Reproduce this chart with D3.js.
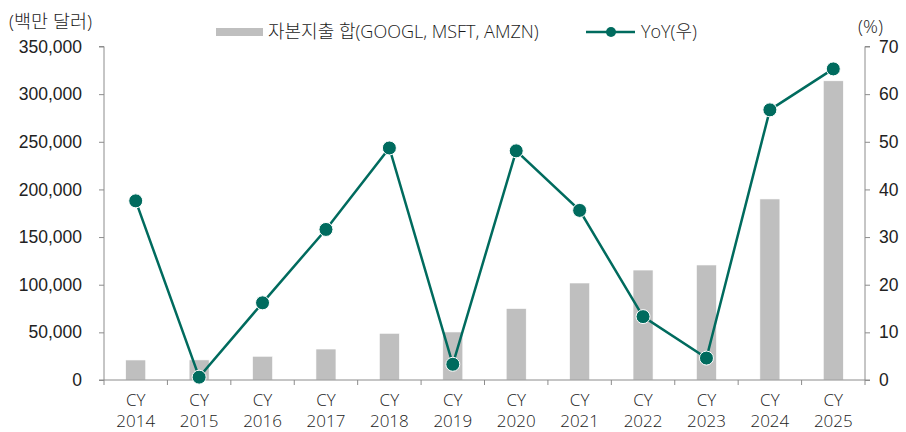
<!DOCTYPE html>
<html>
<head>
<meta charset="utf-8">
<script src="https://cdn.jsdelivr.net/npm/d3@7/dist/d3.min.js"></script>
<style>
  html, body { margin: 0; padding: 0; background: #fff; }
  svg { display: block; font-family: "Open Sans", "Noto Sans CJK KR", sans-serif; font-weight: 300; }
  .axis text { fill: #222; font-size: 17.5px; }
  .axis path, .axis line { stroke: #8c8c8c; }
</style>
</head>
<body>
<svg id="chart" width="906" height="432"></svg>
<script>
// Combined capex of Alphabet, Microsoft and Amazon (USD millions) and YoY growth (%)
const categories = ["CY 2014", "CY 2015", "CY 2016", "CY 2017", "CY 2018", "CY 2019",
                    "CY 2020", "CY 2021", "CY 2022", "CY 2023", "CY 2024", "CY 2025"];
const capex = [21000, 21100, 24900, 32500, 49000, 50400, 75000, 101800, 115400, 120700, 190000, 314000];
const yoy = [37.6, 0.6, 16.2, 31.6, 48.7, 3.3, 48.1, 35.6, 13.3, 4.6, 56.7, 65.3];
const leftTicks = [0, 50000, 100000, 150000, 200000, 250000, 300000, 350000];
const rightTicks = [0, 10, 20, 30, 40, 50, 60, 70];
const barLabel = "자본지출 합(GOOGL, MSFT, AMZN)";
const lineLabel = "YoY(우)";
const leftUnit = "(백만 달러)";
const rightUnit = "(%)";

const svg = d3.select("#chart");
const plotL = 104, plotR = 865, plotT = 46.5, plotB = 380;
const barColor = "#bfbfbf", lineColor = "#006b5e", textColor = "#1a1a1a";

const x = d3.scaleBand().domain(categories).range([plotL, plotR]).padding(0);
const yL = d3.scaleLinear().domain([0, 350000]).range([plotB, plotT]);
const yR = d3.scaleLinear().domain([0, 70]).range([plotB, plotT]);

// bars
const barW = 20;
svg.append("g").selectAll("rect").data(capex).join("rect")
  .attr("x", (d, i) => x(categories[i]) + x.bandwidth() / 2 - barW / 2)
  .attr("y", d => yL(d))
  .attr("width", barW)
  .attr("height", d => yL(0) - yL(d))
  .attr("fill", barColor)
  .attr("stroke", "#fff").attr("stroke-width", 0.6);

// left axis
const gL = svg.append("g").attr("class", "axis").attr("transform", `translate(${plotL},0)`)
  .call(d3.axisLeft(yL).tickValues(leftTicks).tickSize(5).tickPadding(17).tickFormat(d3.format(",")));
gL.select(".domain").attr("d", `M-5,${plotT}H0V${plotB}`);

// right axis
const gR = svg.append("g").attr("class", "axis").attr("transform", `translate(${plotR},0)`)
  .call(d3.axisRight(yR).tickValues(rightTicks).tickSize(5).tickPadding(9));
gR.select(".domain").attr("d", `M5,${plotT}H0V${plotB}`);
gL.selectAll("text").attr("fill", textColor);
gR.selectAll("text").attr("fill", textColor);

// bottom axis with category boundaries
const gX = svg.append("g").attr("class", "axis").attr("transform", `translate(0,${plotB})`);
gX.append("line").attr("x1", plotL - 5).attr("x2", plotR + 5).attr("stroke", "#8c8c8c");
const bounds = categories.map(c => x(c)).concat([plotR]);
gX.selectAll(".bt").data(bounds).join("line").attr("class", "bt")
  .attr("x1", d => d).attr("x2", d => d).attr("y1", 0).attr("y2", 5).attr("stroke", "#8c8c8c");
const mid = d => x(d) + x.bandwidth() / 2;
gX.selectAll(".cy").data(categories).join("text").attr("class", "cy")
  .attr("x", mid).attr("y", 26).attr("text-anchor", "middle").attr("fill", textColor)
  .style("font-size", "17px").text(d => d.split(" ")[0]);
gX.selectAll(".yr").data(categories).join("text").attr("class", "yr")
  .attr("x", mid).attr("y", 47).attr("text-anchor", "middle").attr("fill", textColor)
  .style("font-size", "17px").text(d => d.split(" ")[1]);

// YoY line
const cx = (d, i) => mid(categories[i]);
svg.append("path").datum(yoy)
  .attr("d", d3.line().x(cx).y(d => yR(d)))
  .attr("fill", "none").attr("stroke", lineColor).attr("stroke-width", 2.5);
svg.append("g").selectAll("circle").data(yoy).join("circle")
  .attr("cx", cx).attr("cy", d => yR(d)).attr("r", 7)
  .attr("fill", lineColor).attr("stroke", "#fff").attr("stroke-width", 1);

// unit labels
svg.append("text").attr("x", 9).attr("y", 28).attr("font-size", 18.5).attr("fill", textColor).text(leftUnit);
svg.append("text").attr("x", 858).attr("y", 33).attr("font-size", 18.5).attr("fill", textColor).text(rightUnit);

// legend
const lg = svg.append("g").attr("font-size", 18).attr("fill", textColor);
lg.append("rect").attr("x", 216).attr("y", 28).attr("width", 47).attr("height", 8).attr("fill", barColor);
lg.append("text").attr("x", 268).attr("y", 38).text(barLabel);
lg.append("line").attr("x1", 586).attr("x2", 635).attr("y1", 32).attr("y2", 32)
  .attr("stroke", lineColor).attr("stroke-width", 2.5);
lg.append("circle").attr("cx", 611).attr("cy", 32).attr("r", 5).attr("fill", lineColor);
lg.append("text").attr("x", 641).attr("y", 38).text(lineLabel);
</script>
</body>
</html>
